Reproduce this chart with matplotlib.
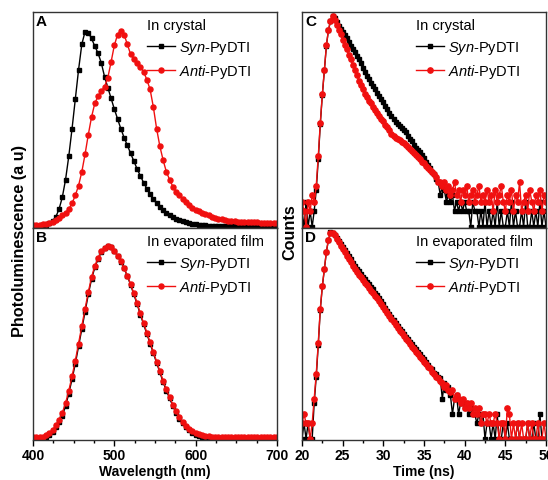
"""
Photoluminescence spectra and decay curves of Syn-/Anti-PyDTI
(crystal vs evaporated film), four panels A-D.
"""

import numpy as np
import matplotlib
matplotlib.use('Agg')
import matplotlib.pyplot as plt
from matplotlib.ticker import MultipleLocator, NullLocator

plt.rcParams['font.family'] = ['Liberation Sans', 'DejaVu Sans']
plt.rcParams['mathtext.fontset'] = 'custom'
plt.rcParams['mathtext.it'] = 'Liberation Sans:italic'
plt.rcParams['mathtext.rm'] = 'Liberation Sans'

# ---------------- data ----------------
# wavelength grid (nm), one point every 4 nm
wavelength = np.arange(400, 701, 4)

# A: PL in crystal (normalised)
syn_crystal_pl = [
    0.000, 0.001, 0.003, 0.006, 0.010, 0.018, 0.030, 0.050, 0.090, 0.150,
    0.240, 0.360, 0.500, 0.650, 0.800, 0.930, 0.995, 0.990, 0.960, 0.920,
    0.885, 0.835, 0.765, 0.710, 0.655, 0.600, 0.550, 0.500, 0.455, 0.415,
    0.375, 0.335, 0.295, 0.260, 0.225, 0.195, 0.165, 0.140, 0.120, 0.100,
    0.085, 0.072, 0.060, 0.050, 0.042, 0.035, 0.029, 0.024, 0.019, 0.015,
    0.012, 0.010, 0.008, 0.007, 0.006, 0.005, 0.004, 0.004, 0.003, 0.003,
    0.003, 0.002, 0.002, 0.002, 0.002, 0.002, 0.001, 0.001, 0.001, 0.001,
    0.001, 0.001, 0.001, 0.001, 0.001, 0.001]
anti_crystal_pl = [
    0.010, 0.010, 0.011, 0.012, 0.015, 0.020, 0.027, 0.035, 0.045, 0.058,
    0.072, 0.090, 0.120, 0.160, 0.210, 0.280, 0.370, 0.470, 0.560, 0.630,
    0.665, 0.690, 0.715, 0.760, 0.840, 0.925, 0.980, 1.000, 0.980, 0.930,
    0.880, 0.855, 0.835, 0.815, 0.790, 0.750, 0.700, 0.610, 0.500, 0.410,
    0.340, 0.280, 0.240, 0.205, 0.180, 0.160, 0.140, 0.125, 0.110, 0.098,
    0.088, 0.080, 0.072, 0.065, 0.058, 0.052, 0.047, 0.042, 0.038, 0.035,
    0.032, 0.030, 0.028, 0.027, 0.026, 0.025, 0.024, 0.024, 0.023, 0.023,
    0.022, 0.022, 0.021, 0.021, 0.020, 0.020]

# B: PL in evaporated film (normalised)
syn_film_pl = [
    0.000, 0.000, 0.001, 0.003, 0.008, 0.018, 0.035, 0.060, 0.090, 0.120,
    0.170, 0.235, 0.310, 0.390, 0.480, 0.570, 0.660, 0.750, 0.830, 0.890,
    0.935, 0.970, 0.990, 1.000, 0.995, 0.975, 0.950, 0.920, 0.885, 0.845,
    0.800, 0.750, 0.700, 0.645, 0.595, 0.545, 0.495, 0.445, 0.395, 0.345,
    0.295, 0.250, 0.210, 0.170, 0.135, 0.105, 0.080, 0.060, 0.045, 0.032,
    0.022, 0.015, 0.010, 0.007, 0.005, 0.004, 0.003, 0.002, 0.002, 0.001,
    0.001, 0.001, 0.001, 0.001, 0.001, 0.001, 0.001, 0.001, 0.001, 0.001,
    0.001, 0.001, 0.001, 0.001, 0.001, 0.001]
anti_film_pl = [
    0.008, 0.008, 0.009, 0.012, 0.018, 0.028, 0.045, 0.070, 0.100, 0.135,
    0.185, 0.250, 0.325, 0.405, 0.495, 0.585, 0.675, 0.762, 0.840, 0.898,
    0.940, 0.973, 0.992, 1.000, 0.995, 0.976, 0.952, 0.922, 0.888, 0.848,
    0.804, 0.755, 0.705, 0.651, 0.601, 0.551, 0.501, 0.451, 0.401, 0.351,
    0.302, 0.257, 0.217, 0.178, 0.143, 0.113, 0.088, 0.068, 0.053, 0.040,
    0.030, 0.023, 0.018, 0.015, 0.013, 0.012, 0.011, 0.010, 0.010, 0.009,
    0.009, 0.009, 0.009, 0.009, 0.008, 0.008, 0.008, 0.008, 0.008, 0.008,
    0.008, 0.008, 0.008, 0.008, 0.008, 0.008]

# time grid (ns), one channel every 0.25 ns
time_ns = np.arange(20, 50.001, 0.25)

# C: decay in crystal (counts), groups of 4 = 1 ns
syn_crystal_counts = [
    2, 1, 3, 1,   2, 1, 2, 5,   19, 90, 320, 930,   2750, 5400, 7950, 10000,
    9100, 7800, 6600, 5750,   5000, 4370, 3800, 3240,   2750, 2400, 2090, 1780,
    1510, 1270, 1060, 880,   740, 630, 540, 470,   410, 355, 300, 265,
    230, 195, 170, 145,   126, 110, 98, 89,   81, 74, 69, 62,
    54, 47, 42, 36,   32, 29, 26, 23,   20, 17, 15, 13,
    11, 10, 8, 7,   4, 6, 5, 3,   4, 3, 4, 2,   3, 2, 3, 2,
    3, 2, 2, 1,   3, 2, 2, 1,   2, 1, 3, 1,   2, 1, 2, 1,
    3, 1, 2, 1,   1, 2, 1, 3,   1, 2, 1, 1,   2, 1, 3, 1,
    1, 2, 1, 2,   1, 3, 1, 2,   1]
anti_crystal_counts = [
    3, 2, 1, 3,   2, 4, 3, 6,   22, 95, 330, 950,   2800, 5500, 8100, 10000,
    8300, 6760, 5500, 4570,   3550, 2880, 2340, 1860,   1510, 1200, 955, 760,
    600, 490, 410, 340,   290, 250, 220, 190,   166, 145, 129, 112,
    100, 87, 78, 68,   59, 52, 49, 46,   44, 41, 39, 36,
    33, 30, 27, 25,   23, 21, 19, 17,   16, 14, 13, 12,
    11, 10, 9, 7,   7, 6, 7, 5,   6, 4, 5, 7,   4, 5, 3, 5,
    4, 6, 3, 4,   5, 3, 4, 6,   3, 4, 3, 5,   3, 4, 2, 5,
    3, 4, 6, 3,   2, 4, 3, 5,   2, 4, 3, 7,   2, 3, 4, 2,
    5, 3, 2, 4,   3, 5, 2, 4,   3]

# D: decay in evaporated film (counts)
syn_film_counts = [
    1, 2, 1, 2,   1, 1, 5, 16,   66, 316, 890, 1900,   4170, 7080, 9900, 9800,
    8900, 7760, 6760, 5890,   5130, 4470, 3890, 3390,   2950, 2570, 2240, 1950,
    1740, 1550, 1380, 1230,   1100, 980, 870, 776,   676, 603, 537, 457,
    398, 347, 302, 263,   229, 200, 174, 151,   135, 120, 107, 95,
    85, 76, 68, 60,   54, 48, 43, 38,   35, 31, 27, 24,
    22, 19, 18, 16,   15, 6, 12, 9,   10, 7, 3, 6,   7, 3, 5, 5,
    4, 5, 3, 4,   3, 3, 2, 3,   2, 3, 1, 2,   2, 1, 2, 1,
    3, 1, 1, 2,   1, 2, 1, 1,   1, 1, 2, 1,   1, 1, 1, 2,
    1, 1, 2, 1,   1, 3, 1, 1,   1]
anti_film_counts = [
    2, 3, 2, 2,   1, 2, 6, 18,   72, 330, 900, 1950,   4200, 7100, 9600, 9700,
    8600, 7400, 6400, 5500,   4700, 4050, 3500, 3000,   2600, 2250, 1950, 1700,
    1500, 1330, 1180, 1050,   930, 830, 740, 660,   585, 520, 460, 405,
    355, 310, 272, 238,   208, 182, 160, 140,   124, 110, 97, 86,
    77, 68, 61, 54,   48, 43, 39, 35,   31, 28, 25, 23,
    20, 18, 16, 15,   13, 12, 10, 11,   9, 8, 9, 6,   7, 6, 5, 6,
    4, 5, 4, 5,   3, 4, 3, 4,   2, 3, 3, 2,   3, 2, 2, 3,
    2, 1, 2, 2,   1, 4, 3, 1,   2, 1, 2, 1,   2, 1, 1, 2,
    1, 2, 1, 1,   2, 1, 1, 2,   1]

SYN_LABEL = r'$\mathit{Syn}$-PyDTI'
ANTI_LABEL = r'$\mathit{Anti}$-PyDTI'
RED = '#f01010'


def style_axes(ax, letter, title):
    for s in ax.spines.values():
        s.set_linewidth(1.0)
        s.set_color('#333333')
    ax.yaxis.set_major_locator(NullLocator())
    ax.yaxis.set_minor_locator(NullLocator())
    ax.tick_params(axis='x', which='both', direction='out', width=1.0,
                   labelsize=10, pad=2)
    ax.tick_params(axis='x', which='major', length=4)
    ax.tick_params(axis='x', which='minor', length=2.5)
    for lab in ax.get_xticklabels():
        lab.set_fontweight('bold')
    ax.text(0.012, 0.992, letter, transform=ax.transAxes, ha='left', va='top',
            fontsize=11, fontweight='bold')
    ax.legend(loc='upper left', bbox_to_anchor=(0.432, 1.012),
              frameon=False, fontsize=10.5, title=title,
              title_fontsize=10.5, alignment='left',
              handlelength=1.9, handletextpad=0.3, labelspacing=0.45,
              borderaxespad=0.2)


def plot_pl(ax, syn, anti, letter, title, show_x):
    ax.plot(wavelength, syn, color='black', linewidth=1.0, marker='s',
            markersize=2.8, label=SYN_LABEL)
    ax.plot(wavelength, anti, color=RED, linewidth=1.0, marker='o',
            markersize=3.6, label=ANTI_LABEL)
    ax.set_xlim(400, 700)
    ax.set_ylim(-0.006, 1.095)
    ax.xaxis.set_major_locator(MultipleLocator(100))
    ax.xaxis.set_minor_locator(MultipleLocator(25))
    if not show_x:
        ax.tick_params(axis='x', which='both', bottom=False, labelbottom=False)
    style_axes(ax, letter, title)


def plot_decay(ax, syn, anti, letter, title, show_x):
    ax.plot(time_ns, syn, color='black', linewidth=1.0, marker='s',
            markersize=3.2, label=SYN_LABEL)
    ax.plot(time_ns, anti, color=RED, linewidth=1.0, marker='o',
            markersize=3.8, label=ANTI_LABEL)
    ax.set_yscale('log')
    ax.set_xlim(20, 50)
    ax.set_ylim(0.95, 1.2e4)
    ax.xaxis.set_major_locator(MultipleLocator(5))
    ax.xaxis.set_minor_locator(MultipleLocator(2.5))
    if not show_x:
        ax.tick_params(axis='x', which='both', bottom=False, labelbottom=False)
    style_axes(ax, letter, title)


fig = plt.figure(figsize=(5.48, 4.81), dpi=100)
W, H = 548.0, 481.0

def panel(x0, y_top, w, h):
    return fig.add_axes([x0 / W, 1 - (y_top + h) / H, w / W, h / H])

ax_a = panel(33, 13, 244, 216)
ax_b = panel(33, 229, 244, 212)
ax_c = panel(302, 13, 244, 216)
ax_d = panel(302, 229, 244, 212)

plot_pl(ax_a, syn_crystal_pl, anti_crystal_pl, 'A', 'In crystal', False)
plot_pl(ax_b, syn_film_pl, anti_film_pl, 'B', 'In evaporated film', True)
plot_decay(ax_c, syn_crystal_counts, anti_crystal_counts, 'C', 'In crystal', False)
plot_decay(ax_d, syn_film_counts, anti_film_counts, 'D', 'In evaporated film', True)

ax_b.set_xlabel('Wavelength (nm)', fontsize=10, fontweight='bold', labelpad=1)
ax_d.set_xlabel('Time (ns)', fontsize=10, fontweight='bold', labelpad=1)

fig.text(20 / W, 1 - 241 / H, 'Photoluminescence (a u)', rotation=90,
         ha='center', va='center', fontsize=11.7, fontweight='bold')
fig.text(290 / W, 1 - 232 / H, 'Counts', rotation=90,
         ha='center', va='center', fontsize=11.7, fontweight='bold')

plt.savefig('out.png', dpi=100)
